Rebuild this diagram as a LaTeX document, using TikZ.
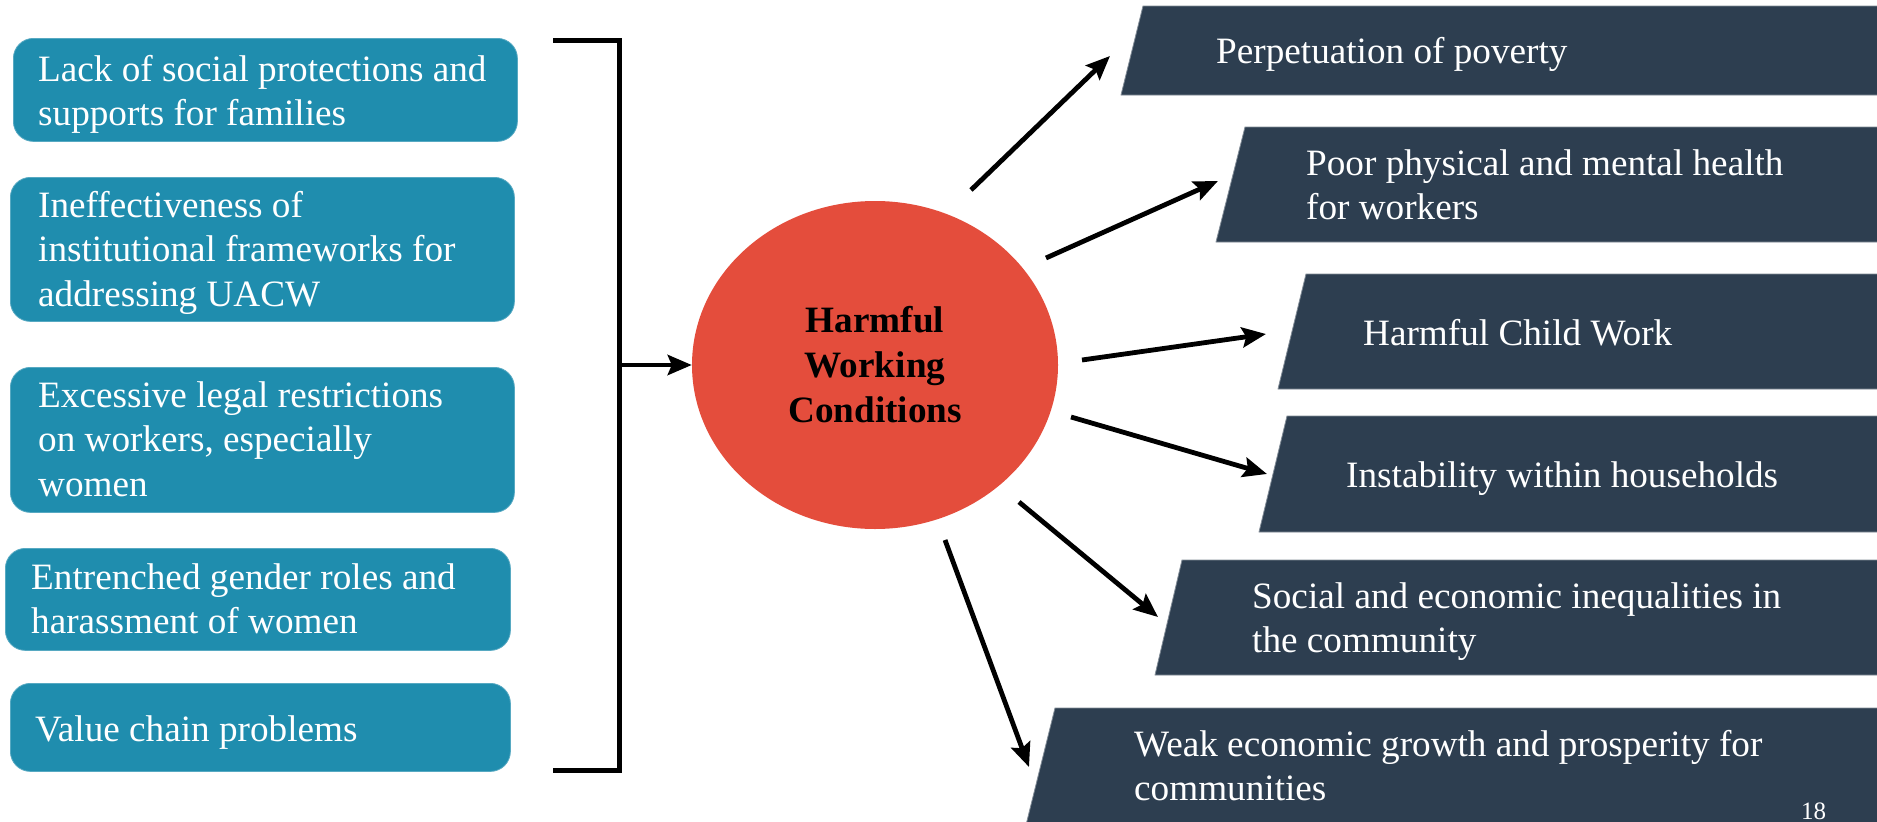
\documentclass[tikz,border=0pt]{standalone}
\usepackage{fontspec}
\setmainfont{Liberation Serif}
\usetikzlibrary{arrows.meta,shapes.geometric}
\definecolor{tealbox}{HTML}{1F8DAE}
\definecolor{slatebox}{HTML}{2D3E50}
\definecolor{redc}{HTML}{E44D3C}
\newcommand{\vlines}[1]{\vtop{\halign{##\hfil\cr#1\crcr}}}
\newcommand{\cvlines}[1]{\vtop{\halign{\hfil##\hfil\cr#1\crcr}}}
\begin{document}
\begin{tikzpicture}[x=1pt,y=-1pt,
 lbox/.style={rectangle, rounded corners=20pt, fill=tealbox, draw=tealbox!75!white, line width=0.8pt, inner sep=0pt, anchor=north west},
 rfill/.style={fill=slatebox, draw=slatebox!60!white, line width=0.8pt},
 txt/.style={inner sep=0pt, anchor=base west, text=white, font=\fontsize{37.2}{44.5}\selectfont},
 arr/.style={line width=4.8pt, -{Stealth[length=24pt,width=20pt,inset=4pt]}},
 brk/.style={line width=5pt, line join=miter}]
\useasboundingbox (0,0) rectangle (1877,822);
\clip (0,0) rectangle (1877,822);
\fill[white] (0,0) rectangle (1877,822);

% left boxes
\node[lbox, minimum width=504pt, minimum height=103pt] (c1) at (13,38) {};
\node[lbox, minimum width=504pt, minimum height=144pt] (c2) at (10,177) {};
\node[lbox, minimum width=504pt, minimum height=145pt] (c3) at (10,367) {};
\node[lbox, minimum width=505pt, minimum height=102pt] (c4) at (5,548) {};
\node[lbox, minimum width=500pt, minimum height=88pt] (c5) at (10,683) {};

\node[txt] (t1) at (38,81) {\vlines{Lack of social protections and\cr supports for families}};
\node[txt] (t2) at (38,217) {\vlines{Ineffectiveness of\cr institutional frameworks for\cr addressing UACW}};
\node[txt] (t3) at (38,407) {\vlines{Excessive legal restrictions\cr on workers, especially\cr women}};
\node[txt] (t4) at (31,589) {\vlines{Entrenched gender roles and\cr harassment of women}};
\node[txt] (t5) at (35,741) {Value chain problems};

% bracket
\coordinate (bt) at (553,40);
\coordinate (btc) at (619,40);
\coordinate (bbc) at (619,770);
\coordinate (bb) at (553,770);
\coordinate (bm) at (619,365);
\draw[brk] (bt) -- (btc) -- (bbc) -- (bb);

% central ellipse
\node[ellipse, fill=redc, minimum width=366pt, minimum height=328pt, inner sep=0pt,
      font=\bfseries\fontsize{37.2}{45}\selectfont] (hwc) at (875,365)
      {\cvlines{Harmful\cr Working\cr Conditions}};
\draw[arr] (bm) -- (hwc.west);

% right boxes (slanted left edge, running off the right side)
\coordinate (r1bl) at (1121,95);  \coordinate (r1tl) at (1143,6);
\coordinate (r2bl) at (1216,242); \coordinate (r2tl) at (1245,127);
\coordinate (r3bl) at (1278,389); \coordinate (r3tl) at (1306,274);
\coordinate (r4bl) at (1259,532); \coordinate (r4tl) at (1287,416);
\coordinate (r5bl) at (1155,675); \coordinate (r5tl) at (1182,560);
\coordinate (r6bl) at (1024,833); \coordinate (r6tl) at (1055,708);
\fill[rfill] (r1bl) -- (r1tl) -- (1890,6) -- (1890,95) -- cycle;
\fill[rfill] (r2bl) -- (r2tl) -- (1890,127) -- (1890,242) -- cycle;
\fill[rfill] (r3bl) -- (r3tl) -- (1890,274) -- (1890,389) -- cycle;
\fill[rfill] (r4bl) -- (r4tl) -- (1890,416) -- (1890,532) -- cycle;
\fill[rfill] (r5bl) -- (r5tl) -- (1890,560) -- (1890,675) -- cycle;
\fill[rfill] (r6bl) -- (r6tl) -- (1890,708) -- (1890,833) -- cycle;

\node[txt] (u1) at (1216,63) {Perpetuation of poverty};
\node[txt] (u2) at (1306,175) {\vlines{Poor physical and mental health\cr for workers}};
\node[txt] (u3) at (1363,345) {Harmful Child Work};
\node[txt] (u4) at (1346,487) {Instability within households};
\node[txt] (u5) at (1252,608) {\vlines{Social and economic inequalities in\cr the community}};
\node[txt] (u6) at (1134,756) {\vlines{Weak economic growth and prosperity for\cr communities}};
\node[txt, font=\fontsize{25}{30}\selectfont] (pg) at (1801,819) {18};

% arrows
\coordinate (a1s) at (971,190);  \coordinate (a1e) at (1110,56);
\coordinate (a2s) at (1046,258); \coordinate (a2e) at (1218,181);
\coordinate (a3s) at (1082,360); \coordinate (a3e) at (1266,334);
\coordinate (a4s) at (1071,417); \coordinate (a4e) at (1267,474);
\coordinate (a5s) at (1019,502); \coordinate (a5e) at (1158,617);
\coordinate (a6s) at (945,540);  \coordinate (a6e) at (1029,767);
\draw[arr] (a1s) -- (a1e);
\draw[arr] (a2s) -- (a2e);
\draw[arr] (a3s) -- (a3e);
\draw[arr] (a4s) -- (a4e);
\draw[arr] (a5s) -- (a5e);
\draw[arr] (a6s) -- (a6e);
\end{tikzpicture}
\end{document}
